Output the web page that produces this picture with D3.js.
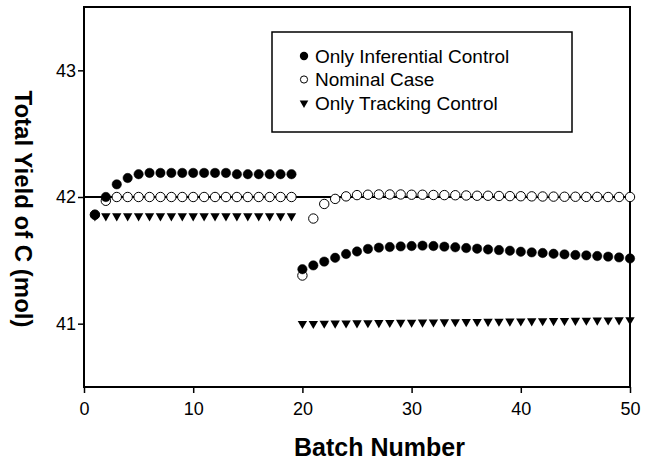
<!DOCTYPE html>
<html>
<head>
<meta charset="utf-8">
<script src="https://cdn.jsdelivr.net/npm/d3@7"></script>
<style>
  html, body { margin: 0; padding: 0; background: #fff; }
  svg { display: block; }
  text { font-family: Arial, "Liberation Sans", Helvetica, sans-serif; fill: #000; }
</style>
</head>
<body>
<svg id="chart" width="660" height="464"></svg>
<script>
// ---- Data ----
const batchesPhase1 = [1,2,3,4,5,6,7,8,9,10,11,12,13,14,15,16,17,18,19];
const batchesPhase2 = [20,21,22,23,24,25,26,27,28,29,30,31,32,33,34,35,36,37,38,39,40,41,42,43,44,45,46,47,48,49,50];

const inferentialPhase1 = [41.86,42.00,42.10,42.15,42.18,42.19,42.19,42.19,42.19,42.19,42.19,42.19,42.19,42.18,42.18,42.18,42.18,42.18,42.18];
const nominalPhase1     = [41.86,41.97,42.00,42.00,42.00,42.00,42.00,42.00,42.00,42.00,42.00,42.00,42.00,42.00,42.00,42.00,42.00,42.00,42.00];
const trackingPhase1    = [41.85,41.85,41.85,41.85,41.85,41.85,41.85,41.85,41.85,41.85,41.85,41.85,41.85,41.85,41.85,41.85,41.85,41.85,41.85];

const inferentialPhase2 = [41.43,41.46,41.49,41.52,41.55,41.57,41.59,41.60,41.605,41.61,41.613,41.616,41.613,41.608,41.603,41.597,41.592,41.586,41.581,41.576,41.568,41.563,41.558,41.552,41.547,41.542,41.539,41.534,41.529,41.523,41.515];
const nominalPhase2     = [41.38,41.83,41.945,41.985,42.005,42.015,42.018,42.02,42.02,42.02,42.018,42.018,42.016,42.015,42.014,42.012,42.01,42.01,42.008,42.007,42.006,42.005,42.004,42.003,42.002,42.002,42.001,42.001,42.0,42.0,42.0];
const trackingPhase2    = [41.0,41.0,41.002,41.003,41.004,41.005,41.006,41.007,41.008,41.009,41.01,41.011,41.012,41.013,41.014,41.015,41.016,41.017,41.018,41.019,41.02,41.021,41.022,41.023,41.024,41.025,41.026,41.027,41.028,41.029,41.03];

const xTicks = [0,10,20,30,40,50];
const yTicks = [41,42,43];
const referenceValue = 42;

const legendLabels = ["Only Inferential Control", "Nominal Case", "Only Tracking Control"];
const xTitle = "Batch Number";
const yTitle = "Total Yield of C (mol)";

// ---- Layout ----
const svg = d3.select("#chart");
const plotL = 84, plotR = 630, plotT = 7, plotB = 387;

const x = d3.scaleLinear().domain([0, 50]).range([plotL, plotR]);
const y = d3.scaleLinear().domain([40.5, 43.5]).range([plotB, plotT]);

// frame
svg.append("rect")
  .attr("x", plotL).attr("y", plotT)
  .attr("width", plotR - plotL).attr("height", plotB - plotT)
  .attr("fill", "none").attr("stroke", "#000").attr("stroke-width", 2);

// axes
const xAxis = svg.append("g").attr("transform", `translate(0,${plotB})`)
  .call(d3.axisBottom(x).tickValues(xTicks).tickSize(6).tickPadding(9).tickFormat(d3.format("d")));
const yAxis = svg.append("g").attr("transform", `translate(${plotL},0)`)
  .call(d3.axisLeft(y).tickValues(yTicks).tickSize(6).tickPadding(2).tickFormat(d3.format("d")));
[xAxis, yAxis].forEach(g => {
  g.select(".domain").remove();
  g.selectAll(".tick line").attr("stroke", "#000").attr("stroke-width", 1.5);
  g.selectAll(".tick text").attr("font-size", 18).attr("font-family", "Arial, 'Liberation Sans', sans-serif").attr("fill", "#000");
});

// reference line
svg.append("line")
  .attr("x1", x(0)).attr("x2", x(50))
  .attr("y1", y(referenceValue)).attr("y2", y(referenceValue))
  .attr("stroke", "#000").attr("stroke-width", 2);

// series
const zip = (xs, ys) => xs.map((b, i) => ({b, v: ys[i]}));
const tri = d3.symbol().type(d3.symbolTriangle).size(38);

function drawCircles(data, filled) {
  svg.append("g").selectAll("circle").data(data).join("circle")
    .attr("cx", d => x(d.b)).attr("cy", d => y(d.v)).attr("r", 4.7)
    .attr("fill", filled ? "#000" : "#fff")
    .attr("stroke", "#000").attr("stroke-width", filled ? 0.5 : 1);
}
function drawTriangles(data) {
  svg.append("g").selectAll("path").data(data).join("path")
    .attr("d", tri)
    .attr("transform", d => `translate(${x(d.b)},${y(d.v)}) rotate(180)`)
    .attr("fill", "#000");
}

drawTriangles(zip(batchesPhase1, trackingPhase1));
drawTriangles(zip(batchesPhase2, trackingPhase2));
drawCircles(zip(batchesPhase1, nominalPhase1), false);
drawCircles(zip(batchesPhase2, nominalPhase2), false);
drawCircles(zip(batchesPhase1, inferentialPhase1), true);
drawCircles(zip(batchesPhase2, inferentialPhase2), true);

// legend
const lg = svg.append("g");
lg.append("rect").attr("x", 272).attr("y", 32).attr("width", 300).attr("height", 100)
  .attr("fill", "#fff").attr("stroke", "#000").attr("stroke-width", 1.5);
const rowY = [56, 79.5, 103];
lg.append("circle").attr("cx", 304).attr("cy", rowY[0]).attr("r", 4.2).attr("fill", "#000");
lg.append("circle").attr("cx", 304).attr("cy", rowY[1]).attr("r", 3.6).attr("fill", "#fff").attr("stroke", "#000").attr("stroke-width", 1);
lg.append("path").attr("d", d3.symbol().type(d3.symbolTriangle).size(32))
  .attr("transform", `translate(304,${rowY[2]}) rotate(180)`).attr("fill", "#000");
legendLabels.forEach((t, i) => {
  lg.append("text").attr("x", 315).attr("y", rowY[i]).attr("dy", "0.35em")
    .attr("font-size", 19).text(t);
});

// axis titles
svg.append("text").attr("x", 294).attr("y", 456)
  .attr("text-anchor", "start").attr("font-size", 25).attr("font-weight", "bold").text(xTitle);
svg.append("text")
  .attr("transform", `translate(23,209) rotate(90)`)
  .attr("text-anchor", "middle").attr("dy", "0.35em")
  .attr("font-size", 24).attr("font-weight", "bold").text(yTitle);
</script>
</body>
</html>
